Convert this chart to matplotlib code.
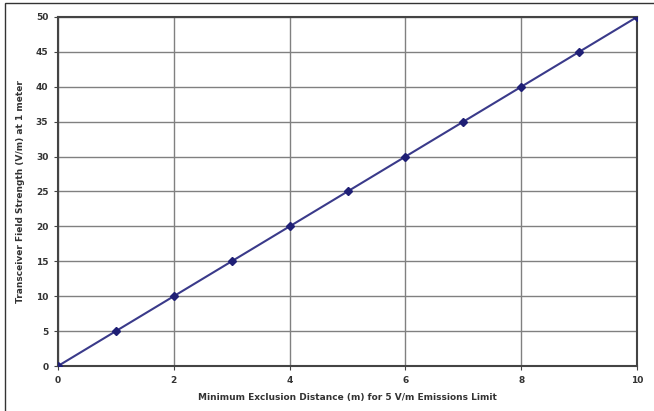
import matplotlib
matplotlib.use("Agg")
import matplotlib.pyplot as plt
from matplotlib.patches import Rectangle

distance = [0, 1, 2, 3, 4, 5, 6, 7, 8, 9, 10]
field_strength = [0, 5, 10, 15, 20, 25, 30, 35, 40, 45, 50]
x_ticks = [0, 2, 4, 6, 8, 10]
y_ticks = [0, 5, 10, 15, 20, 25, 30, 35, 40, 45, 50]

W, H = 654, 411
fig = plt.figure(figsize=(W/100, H/100), dpi=100)
fig.patch.set_facecolor("white")
# outer frame (cut off on right and bottom)
fig.patches.append(Rectangle((5/W, -0.1), 1.2, 1 - 3/H + 0.1, transform=fig.transFigure,
                             fill=False, edgecolor="#333333", linewidth=1.0))

ax = fig.add_axes([58/W, 1 - 366/H, (637-58)/W, (366-17)/H])
ax.plot(distance, field_strength, color="#3a3a8a", linewidth=1.5,
        marker="D", markersize=4, markerfacecolor="#1f1f75", markeredgecolor="#1f1f75", zorder=3)
ax.set_xlim(0, 10)
ax.set_ylim(0, 50)
ax.set_xticks(x_ticks)
ax.set_yticks(y_ticks)
ax.grid(True, color="#808080", linewidth=1.0)
ax.set_axisbelow(True)
for s in ax.spines.values():
    s.set_color("#444444")
    s.set_linewidth(1.5)
ax.tick_params(labelsize=6.5, length=3, color="#444444", labelcolor="#333333", pad=4)
for lab in ax.get_xticklabels() + ax.get_yticklabels():
    lab.set_fontweight("bold")
ax.set_xlabel("Minimum Exclusion Distance (m) for 5 V/m Emissions Limit",
              fontsize=6.5, fontweight="bold", color="#333333", labelpad=6)
ax.set_ylabel("Transceiver Field Strength (V/m) at 1 meter",
              fontsize=6.5, fontweight="bold", color="#333333", labelpad=8)
fig.savefig("out.png", dpi=100)
